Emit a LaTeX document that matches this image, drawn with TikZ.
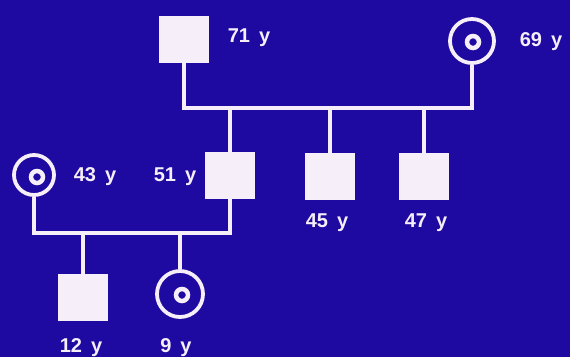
\documentclass[tikz,border=0pt]{standalone}
\usepackage{fontspec}
\setmainfont{Liberation Sans}
\definecolor{bg}{RGB}{30,10,160}
\definecolor{fg}{RGB}{246,238,248}
\newcommand\agelbl[1]{\textbf{#1\hspace{0.45em}y}}
\begin{document}
\begin{tikzpicture}[x=1pt,y=-1pt,
  male/.style={rectangle,draw=fg,fill=fg,line width=2pt,minimum width=48pt,minimum height=45pt,inner sep=0pt},
  female/.style={circle,draw=fg,line width=3.8pt,minimum size=42pt,inner sep=0pt},
  dot/.style={circle,draw=fg,line width=4.5pt,minimum size=12pt,inner sep=0pt},
  lbl/.style={text=fg,font=\fontsize{20}{21}\selectfont,inner sep=0pt},
  link/.style={draw=fg,line width=3.6pt}]
\fill[bg] (0,0) rectangle (570,357);
\useasboundingbox (0,0) rectangle (570,357);
% generation I
\node[male] (gf) at (184,39) {};
\node[female,minimum size=44pt] (gm) at (472,41) {};
\node[dot] (gmd) at (473,42) {};
\node[lbl] (lgf) at (249,38) {\agelbl{71}};
\node[lbl] (lgm) at (541,42) {\agelbl{69}};
% generation II
\node[female,minimum size=40pt] (w) at (34,175) {};
\node[dot] (wd) at (37,177) {};
\node[male] (c51) at (230,175) {};
\node[male] (c45) at (330,176) {};
\node[male] (c47) at (424,176) {};
\node[lbl] (lw) at (95,177) {\agelbl{43}};
\node[lbl] (lc51) at (175,177) {\agelbl{51}};
\node[lbl] (lc45) at (327,223) {\agelbl{45}};
\node[lbl] (lc47) at (426,223) {\agelbl{47}};
% generation III
\node[male] (s) at (83,297) {};
\node[female,minimum size=46pt] (g) at (180,294) {};
\node[dot] (gd) at (182,295) {};
\node[lbl] (ls) at (81,348) {\agelbl{12}};
\node[lbl] (lg) at (176,348) {\agelbl{9}};
% connectors
\coordinate (sib) at (0,108);
\coordinate (mar) at (0,233);
\draw[link] (gf.south) |- (gm.south |- sib) -- (gm.south);
\draw[link] (c51.north) -- (c51.north |- sib);
\draw[link] (c45.north) -- (c45.north |- sib);
\draw[link] (c47.north) -- (c47.north |- sib);
\draw[link] (w.south) |- (c51.south |- mar) -- (c51.south);
\draw[link] (s.north) -- (s.north |- mar);
\draw[link] (g.north) -- (g.north |- mar);
\end{tikzpicture}
\end{document}
